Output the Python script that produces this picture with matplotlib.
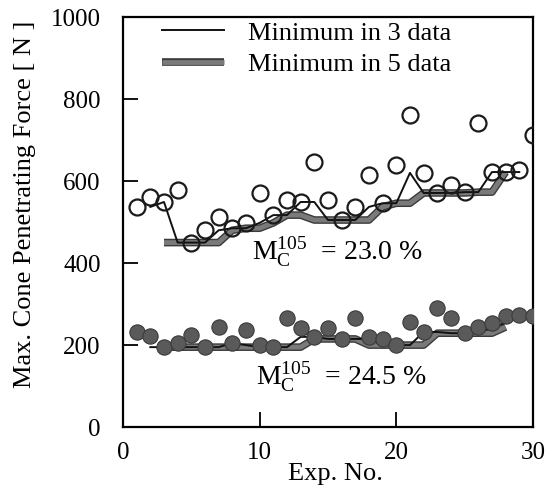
import matplotlib
matplotlib.use("Agg")
import matplotlib.pyplot as plt
import matplotlib.patheffects as pe

plt.rcParams['font.family'] = ['Liberation Serif', 'DejaVu Serif']
plt.rcParams['mathtext.fontset'] = 'stix'

# experiment numbers
exp_no = list(range(1, 31))

# upper series (open circles), M_C^105 = 23.0 %
upper = [537, 561, 549, 578, 450, 480, 512, 485, 498, 571,
         517, 554, 549, 646, 554, 505, 537, 615, 546, 639,
         761, 620, 571, 590, 573, 741, 622, 622, 627, 712]
# lower series (filled circles), M_C^105 = 24.5 %
lower = [232, 222, 195, 205, 224, 195, 244, 205, 237, 200,
         195, 266, 241, 220, 241, 215, 266, 220, 215, 200,
         256, 232, 290, 266, 229, 244, 254, 271, 273, 271]

# minimum in 3 data (x = 2..29)
x_min3 = list(range(2, 30))
upper_min3 = [537, 549, 450, 450, 450, 480, 485, 485, 498, 517,
              517, 549, 549, 505, 505, 505, 537, 546, 546, 620,
              571, 571, 571, 573, 573, 622, 622, 622]
lower_min3 = [195, 195, 195, 195, 195, 195, 205, 200, 195, 195,
              195, 220, 220, 215, 215, 215, 215, 200, 200, 200,
              232, 232, 229, 229, 229, 244, 254, 271]

# minimum in 5 data (x = 3..28)
x_min5 = list(range(3, 29))
upper_min5 = [450, 450, 450, 450, 450, 480, 485, 485, 498, 517,
              517, 505, 505, 505, 505, 505, 537, 546, 546, 571,
              571, 571, 571, 573, 573, 622]
lower_min5 = [195, 195, 195, 195, 195, 195, 195, 195, 195, 195,
              195, 215, 215, 215, 215, 200, 200, 200, 200, 200,
              229, 229, 229, 229, 229, 244]

fig = plt.figure(figsize=(5.54, 4.87), dpi=100)
ax = fig.add_axes([0.222, 0.123, 0.740, 0.842])

thick_fx = [pe.Stroke(linewidth=5.5, foreground='#3a3a3a'), pe.Normal()]

# thick lines (min in 5)
ax.plot(x_min5, upper_min5, color='#7a7a7a', lw=3.5, solid_capstyle='butt', zorder=2,
        path_effects=thick_fx, label='Minimum in 5 data')
ax.plot(x_min5, lower_min5, color='#7a7a7a', lw=3.5, solid_capstyle='butt', zorder=2,
        path_effects=thick_fx)
# thin lines (min in 3)
ax.plot(x_min3, upper_min3, color='#111111', lw=1.4, zorder=3, label='Minimum in 3 data')
ax.plot(x_min3, lower_min3, color='#111111', lw=1.4, zorder=3)

ax.plot(exp_no, upper, 'o', ms=11.5, mfc='none', mec='#1a1a1a', mew=1.6, zorder=4)
ax.plot(exp_no, lower, 'o', ms=11, mfc='#5a5a5a', mec='#3a3a3a', mew=0.8, zorder=4)

ax.text(9.46, 407, r'$\mathregular{M_C^{105}}$  = 23.0 %', fontsize=20, ha='left', va='baseline')
ax.text(9.76, 102, r'$\mathregular{M_C^{105}}$  = 24.5 %', fontsize=20, ha='left', va='baseline')

ax.set_xlim(0, 30)
ax.set_ylim(0, 1000)
ax.set_xticks([0, 10, 20, 30])
ax.set_yticks([0, 200, 400, 600, 800, 1000])
ax.tick_params(direction='in', length=11, width=1.3, labelsize=18, top=False, right=False)
ax.tick_params(axis='x', pad=11)
ax.tick_params(axis='y', pad=16)
for s in ax.spines.values():
    s.set_linewidth(1.6)

fig.text(335 / 554, 2 / 487, 'Exp. No.', fontsize=19, ha='center', va='bottom')
fig.text(25 / 554, 1 - 204 / 487, 'Max. Cone Penetrating Force [ N ]', fontsize=19,
         rotation=90, ha='center', va='center')

handles, labels = ax.get_legend_handles_labels()
ax.legend(handles[::-1], labels[::-1], loc='upper left', bbox_to_anchor=(0.095, 0.99),
          frameon=False, fontsize=19, handlelength=2.35, handletextpad=0.9,
          labelspacing=0.3, borderpad=0, borderaxespad=0)

fig.savefig('out.png', dpi=100)
